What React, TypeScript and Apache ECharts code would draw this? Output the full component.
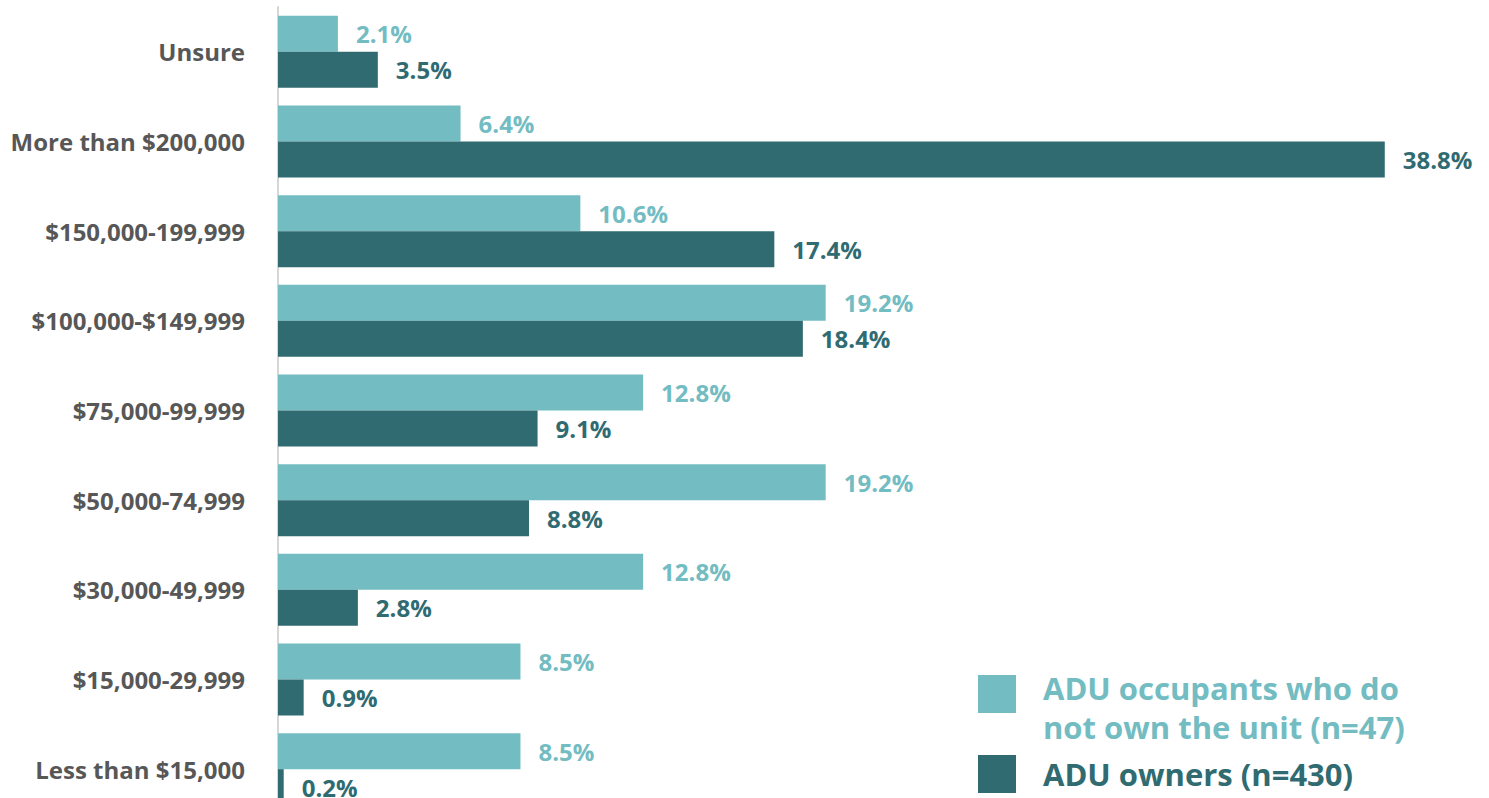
import React, { useEffect, useRef } from "react";
import * as echarts from "echarts";

const categories = [
  "Unsure",
  "More than $200,000",
  "$150,000-199,999",
  "$100,000-$149,999",
  "$75,000-99,999",
  "$50,000-74,999",
  "$30,000-49,999",
  "$15,000-29,999",
  "Less than $15,000",
];
const occupants = [2.1, 6.4, 10.6, 19.2, 12.8, 19.2, 12.8, 8.5, 8.5];
const owners = [3.5, 38.8, 17.4, 18.4, 9.1, 8.8, 2.8, 0.9, 0.2];
const seriesNames = ["ADU occupants who do\nnot own the unit (n=47)", "ADU owners (n=430)"];

const LIGHT = "#72BCC2";
const DARK = "#306B71";
const FONT = "'Open Sans', sans-serif";

export default function App() {
  const ref = useRef<HTMLDivElement>(null);
  useEffect(() => {
    if (!ref.current) return;
    const chart = echarts.init(ref.current, null, { renderer: "svg" });
    const label = (color: string) => ({
      show: true,
      position: "right",
      distance: 18,
      color,
      fontFamily: FONT,
      fontWeight: "bold",
      fontSize: 24,
      formatter: (p: any) => `${Number(p.value).toFixed(1)}%`,
    });
    chart.setOption({
      animation: false,
      textStyle: { fontFamily: FONT },
      grid: { left: 278, right: 70, top: 7, bottom: 16, containLabel: false },
      xAxis: { type: "value", min: 0, max: 40, show: false },
      yAxis: {
        type: "category",
        data: categories,
        inverse: true,
        axisLine: { show: true, lineStyle: { color: "#d6d6d6", width: 2 } },
        axisTick: { show: false },
        axisLabel: {
          margin: 33,
          color: "#575757",
          fontFamily: FONT,
          fontWeight: "bold",
          fontSize: 24,
        },
      },
      series: [
        {
          name: seriesNames[0],
          type: "bar",
          data: occupants,
          barWidth: 36,
          barGap: "0%",
          itemStyle: { color: LIGHT },
          label: label(LIGHT),
        },
        {
          name: seriesNames[1],
          type: "bar",
          data: owners,
          barWidth: 36,
          barGap: "0%",
          itemStyle: { color: DARK },
          label: label(DARK),
        },
      ],
      graphic: [
        { type: "rect", left: 978, top: 675, shape: { width: 38, height: 38 }, style: { fill: LIGHT } },
        {
          type: "text",
          left: 1043,
          top: 668,
          style: {
            text: seriesNames[0],
            fill: LIGHT,
            font: `bold 31px ${FONT}`,
            lineHeight: 39,
          },
        },
        { type: "rect", left: 978, top: 755, shape: { width: 38, height: 38 }, style: { fill: DARK } },
        {
          type: "text",
          left: 1043,
          top: 754,
          style: {
            text: seriesNames[1],
            fill: DARK,
            font: `bold 31px ${FONT}`,
            lineHeight: 39,
          },
        },
      ],
    });
    return () => chart.dispose();
  }, []);
  return (
    <div
      ref={ref}
      style={{ position: "fixed", left: 0, top: 0, width: 1489, height: 830, background: "#fff" }}
    />
  );
}
